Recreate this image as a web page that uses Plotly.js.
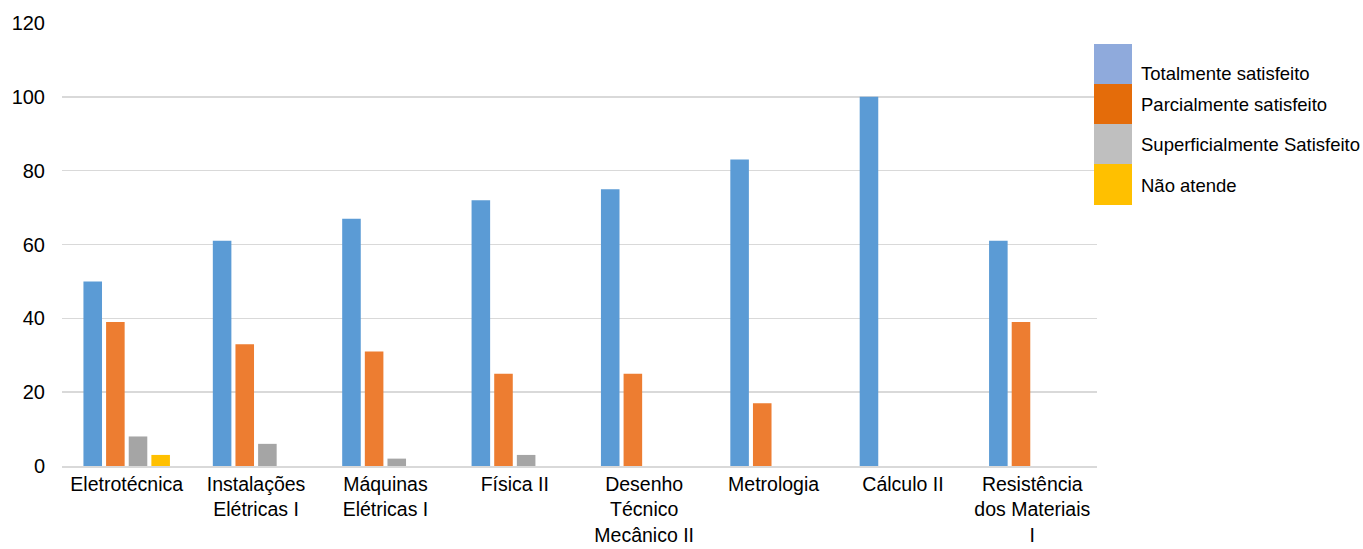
<!DOCTYPE html>
<html><head><meta charset="utf-8">
<script src="https://cdn.plot.ly/plotly-3.0.1.min.js"></script>
<style>html,body{margin:0;padding:0;background:#fff}#c{width:1363px;height:549px}</style>
</head><body><div id="c"></div>
<script>
const categories = ["Eletrotécnica","Instalações<br>Elétricas I","Máquinas<br>Elétricas I","Física II","Desenho<br>Técnico<br>Mecânico II","Metrologia","Cálculo II","Resistência<br>dos Materiais<br>I"];
const seriesNames = ["Totalmente satisfeito","Parcialmente satisfeito","Superficialmente Satisfeito","Não atende"];
const totalmente = [50,61,67,72,75,83,100,61];
const parcialmente = [39,33,31,25,25,17,0,39];
const superficialmente = [8,6,2,3,0,0,0,0];
const naoAtende = [3,0,0,0,0,0,0,0];
const yTicks = [0,20,40,60,80,100,120];

const barColors = ["#5B9BD5","#ED7D31","#A5A5A5","#FFC000"];
const legendColors = ["#8FAADC","#E46C0A","#BFBFBF","#FFC000"];
const values = [totalmente, parcialmente, superficialmente, naoAtende];

const traces = values.map((v,i)=>({
  type:'bar', x:categories, y:v, name:seriesNames[i],
  marker:{color:barColors[i]}, showlegend:false, hoverinfo:'x+y'
}));

const W=1363,H=549,L=62,R=1097,T=23,B=466;
const px = x => (x-L)/(R-L);
const py = y => (B-y)/(B-T);
const shapes=[], annotations=[];
const swTop=[44,84,124,164], swBot=[84,124,164,205], txtY=[74,104,144,185];
for(let i=0;i<4;i++){
  shapes.push({type:'rect',xref:'paper',yref:'paper',x0:px(1094),x1:px(1132),y0:py(swBot[i]),y1:py(swTop[i]),fillcolor:legendColors[i],line:{width:0}});
  annotations.push({xref:'paper',yref:'paper',x:px(1139),y:py(txtY[i]),xanchor:'left',yanchor:'middle',showarrow:false,text:seriesNames[i],font:{family:'Liberation Sans, Arial, sans-serif',size:18.5,color:'#000'}});
}

const layout = {
  width:W,height:H,
  margin:{l:L,r:W-R,t:T,b:H-B},
  paper_bgcolor:'#fff',plot_bgcolor:'#fff',
  barmode:'group',bargap:0.3,bargroupgap:0.18,
  font:{family:'Liberation Sans, Arial, sans-serif',size:20,color:'#000'},
  xaxis:{showgrid:false,showline:true,linecolor:'#D9D9D9',linewidth:1.5,ticks:'',tickfont:{size:19.5},ticklabelstandoff:0,fixedrange:true},
  yaxis:{range:[0,120],tickvals:yTicks,ticktext:yTicks.map(String),showgrid:true,gridcolor:'#D9D9D9',gridwidth:1.5,zeroline:false,showline:false,ticks:'',tickfont:{size:20},ticklabelstandoff:16,fixedrange:true},
  showlegend:false,
  shapes:shapes,annotations:annotations
};
Plotly.newPlot('c',traces,layout,{displayModeBar:false,staticPlot:true});
</script></body></html>
